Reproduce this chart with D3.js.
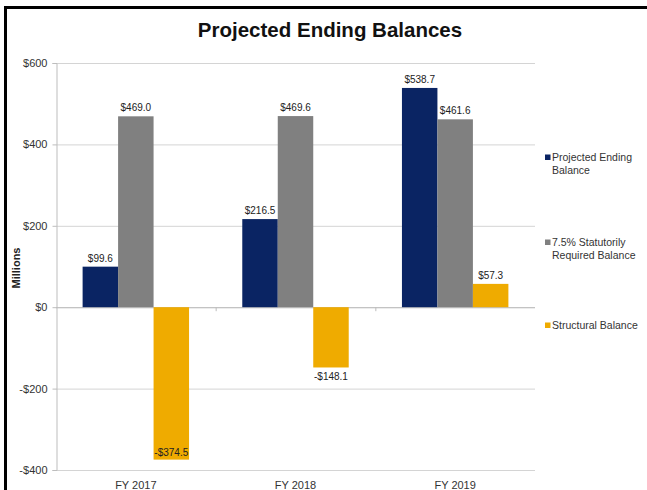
<!DOCTYPE html>
<html>
<head>
<meta charset="utf-8">
<script src="https://cdn.jsdelivr.net/npm/d3@7"></script>
<style>
  html, body { margin: 0; padding: 0; background: #fff; overflow: hidden; }
  svg { display: block; font-family: "Liberation Sans", Arial, sans-serif; }
</style>
</head>
<body>
<svg id="chart" width="647" height="490"></svg>
<script>
// Fiscal years and balances (millions of dollars)
const years = ["FY 2017", "FY 2018", "FY 2019"];
const seriesNames = ["Projected Ending Balance", "7.5% Statutorily Required Balance", "Structural Balance"];
const projectedEnding = [99.6, 216.5, 538.7];
const statutoryRequired = [469.0, 469.6, 461.6];
const structural = [-374.5, -148.1, 57.3];
const yTicks = [-400, -200, 0, 200, 400, 600];
const legendLines = [["Projected Ending", "Balance"], ["7.5% Statutorily", "Required Balance"], ["Structural Balance"]];
const colors = ["#0a2463", "#808080", "#efab00"];

const series = [projectedEnding, statutoryRequired, structural];

const svg = d3.select("#chart");
const plot = { left: 56, right: 535, top: 63, bottom: 470 };

// Outer frame (runs off the window on the right and bottom)
svg.append("rect")
  .attr("x", 5.5).attr("y", 7.5)
  .attr("width", 800).attr("height", 700)
  .attr("fill", "none").attr("stroke", "#000").attr("stroke-width", 3);

svg.append("text")
  .attr("x", 330).attr("y", 37)
  .attr("text-anchor", "middle")
  .attr("font-size", 20.5).attr("font-weight", "bold")
  .attr("fill", "#111")
  .text("Projected Ending Balances");

const y = d3.scaleLinear().domain([-400, 600]).range([plot.bottom, plot.top]);
const x0 = d3.scaleBand().domain(years).range([plot.left, plot.right]).paddingInner(0).paddingOuter(0);
const x1 = d3.scaleBand().domain(d3.range(series.length))
  .range([0, x0.bandwidth()]).paddingInner(0).paddingOuter(0.75);

// Gridlines
svg.append("g")
  .selectAll("line").data(yTicks).join("line")
  .attr("x1", plot.left).attr("x2", plot.right)
  .attr("y1", d => y(d) + 0.5).attr("y2", d => y(d) + 0.5)
  .attr("stroke", "#d4d4d4").attr("stroke-width", 1);

// Y axis
const yAxis = svg.append("g")
  .attr("transform", `translate(${plot.left + 0.5},0)`)
  .call(d3.axisLeft(y).tickValues(yTicks).tickSize(4).tickPadding(5)
    .tickFormat(d => (d < 0 ? "-$" : "$") + Math.abs(d)));
yAxis.select(".domain").attr("stroke", "#bdbdbd");
yAxis.selectAll(".tick line").attr("stroke", "#bdbdbd");
yAxis.selectAll(".tick text").attr("font-size", 11).attr("fill", "#333")
  .attr("font-family", "'Liberation Sans', Arial, sans-serif");

svg.append("text")
  .attr("transform", "translate(20,268) rotate(-90)")
  .attr("text-anchor", "middle")
  .attr("font-size", 11).attr("font-weight", "bold").attr("fill", "#222")
  .text("Millions");

// Zero line with category separators
svg.append("line")
  .attr("x1", plot.left).attr("x2", plot.right)
  .attr("y1", y(0) + 0.5).attr("y2", y(0) + 0.5)
  .attr("stroke", "#bdbdbd");
svg.append("g").selectAll("line").data(years.slice(1)).join("line")
  .attr("x1", d => x0(d) + 0.5).attr("x2", d => x0(d) + 0.5)
  .attr("y1", y(0)).attr("y2", y(0) + 4)
  .attr("stroke", "#bdbdbd");

// Category labels
svg.append("g").selectAll("text").data(years).join("text")
  .attr("x", d => x0(d) + x0.bandwidth() / 2)
  .attr("y", 489)
  .attr("text-anchor", "middle")
  .attr("font-size", 11).attr("fill", "#333")
  .text(d => d);

// Bars
const bars = [];
series.forEach((vals, si) => vals.forEach((v, yi) => bars.push({ si, year: years[yi], v })));

svg.append("g").selectAll("rect").data(bars).join("rect")
  .attr("x", d => x0(d.year) + x1(d.si))
  .attr("width", x1.bandwidth())
  .attr("y", d => y(Math.max(0, d.v)))
  .attr("height", d => Math.abs(y(d.v) - y(0)))
  .attr("fill", d => colors[d.si]);

// Value labels: above positive bars, below negative bars unless that runs off the plot
const fmt = v => (v < 0 ? "-$" : "$") + Math.abs(v).toFixed(1);
svg.append("g").selectAll("text").data(bars).join("text")
  .attr("x", d => x0(d.year) + x1(d.si) + x1.bandwidth() / 2)
  .attr("y", d => {
    if (d.v >= 0) return y(d.v) - 5;
    const below = y(d.v) + 13;
    return below > plot.bottom - 4 ? y(d.v) - 4 : below;
  })
  .attr("text-anchor", "middle")
  .attr("font-size", 10).attr("fill", "#222")
  .text(d => fmt(d.v));

// Legend
const legendY = [161, 246, 329];
const legend = svg.append("g").selectAll("g").data(seriesNames).join("g")
  .attr("transform", (d, i) => `translate(545,${legendY[i]})`);
legend.append("rect")
  .attr("x", 0).attr("y", -6.5).attr("width", 5.5).attr("height", 5.5)
  .attr("fill", (d, i) => colors[i]);
legend.append("text")
  .attr("font-size", 10.5).attr("fill", "#333")
  .selectAll("tspan").data((d, i) => legendLines[i]).join("tspan")
  .attr("x", 7).attr("dy", (d, j) => j === 0 ? 0 : 13)
  .text(d => d);
</script>
</body>
</html>
